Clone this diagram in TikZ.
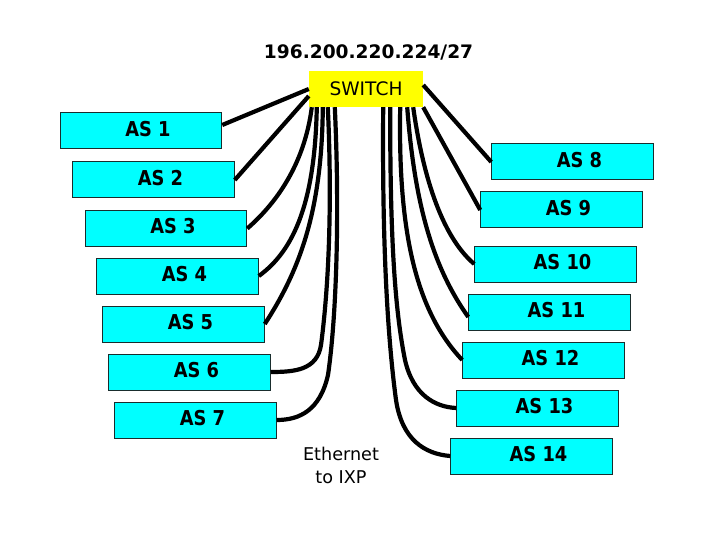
\documentclass[tikz,border=0pt]{standalone}
\usepackage{fontspec}
\setmainfont{DejaVu Sans}
\newfontfamily\asfont{DejaVu Sans}[FakeStretch=0.87]
\definecolor{ixcyan}{RGB}{0,255,255}
\definecolor{ixyellow}{RGB}{255,255,0}
\definecolor{ixedge}{RGB}{25,45,45}
\usetikzlibrary{positioning}

\begin{document}
\begin{tikzpicture}[x=1pt, y=-1pt,
        asbox/.style={rectangle, draw=ixedge, line width=1pt, fill=ixcyan,
                      minimum width=161.5pt, minimum height=36pt, inner sep=0pt,
                      text height=14.5pt, text depth=4pt,
                      execute at begin node={\hspace*{14pt}},
                      font=\asfont\bfseries\fontsize{20.5}{24}\selectfont},
        swbox/.style={rectangle, fill=ixyellow, minimum width=114pt, minimum height=36pt,
                      inner sep=0pt, text height=14pt, text depth=0pt,
                      font=\fontsize{18.6}{22}\selectfont},
        link/.style={line width=4.2pt, black}
      ]
        \useasboundingbox (0,0) rectangle (720,540);

        \node[font=\bfseries\fontsize{18.6}{22}\selectfont, anchor=base] (subnet) at (368.5,59) {196.200.220.224/27};
        \node[swbox] (switch) at (366,89) {SWITCH};

        \node[asbox] (as1)  at (141,131)   {AS 1};
        \node[asbox] (as2)  at (153.5,180) {AS 2};
        \node[asbox] (as3)  at (166,228.5) {AS 3};
        \node[asbox] (as4)  at (177.5,276) {AS 4};
        \node[asbox] (as5)  at (183.5,324) {AS 5};
        \node[asbox] (as6)  at (189.5,372) {AS 6};
        \node[asbox] (as7)  at (195.5,420) {AS 7};

        \node[asbox] (as8)  at (572.5,162) {AS 8};
        \node[asbox] (as9)  at (561.5,210) {AS 9};
        \node[asbox] (as10) at (555.5,264) {AS 10};
        \node[asbox] (as11) at (549.5,312) {AS 11};
        \node[asbox] (as12) at (543.5,360) {AS 12};
        \node[asbox] (as13) at (537.5,408) {AS 13};
        \node[asbox] (as14) at (531.5,456) {AS 14};

        \node[align=center, font=\fontsize{17.6}{23}\selectfont] (ether) at (341,465) {Ethernet\\to IXP};

        % left side
        \draw[link] (switch.west) -- ([yshift=6pt]as1.east);
        \draw[link] ([yshift=-7pt]switch.west) -- (as2.east);
        \draw[link] ([xshift=3pt]switch.south west) .. controls (305,160) and (280,200) .. (as3.east);
        \draw[link] ([xshift=8pt]switch.south west) .. controls (315,200) and (295,250) .. (as4.east);
        \draw[link] ([xshift=14pt]switch.south west) .. controls (322,210) and (300,270) .. (as5.east);
        \draw[link] ([xshift=19pt]switch.south west) .. controls (333,220) and (327,300) .. (321,345)
                    .. controls (317,370) and (295,372) .. (as6.east);
        \draw[link] ([xshift=26pt]switch.south west) .. controls (340,220) and (336,320) .. (328,375)
                    .. controls (320,410) and (300,420) .. (as7.east);

        % right side
        \draw[link] ([yshift=4pt]switch.east) -- (as8.west);
        \draw[link] (switch.south east) -- (as9.west);
        \draw[link] ([xshift=-10pt]switch.south east) .. controls (422,170) and (440,235) .. (as10.west);
        \draw[link] ([xshift=-16pt]switch.south east) .. controls (415,210) and (435,270) .. ([yshift=-5pt]as11.west);
        \draw[link] ([xshift=-23pt]switch.south east) .. controls (398,230) and (415,310) .. (as12.west);
        \draw[link] ([xshift=-33pt]switch.south east) .. controls (390,240) and (395,310) .. (405,360)
                    .. controls (413,395) and (435,407) .. (as13.west);
        \draw[link] ([xshift=-40pt]switch.south east) .. controls (382,250) and (388,340) .. (396,400)
                    .. controls (402,440) and (425,454) .. (as14.west);
      \end{tikzpicture}
\end{document}
